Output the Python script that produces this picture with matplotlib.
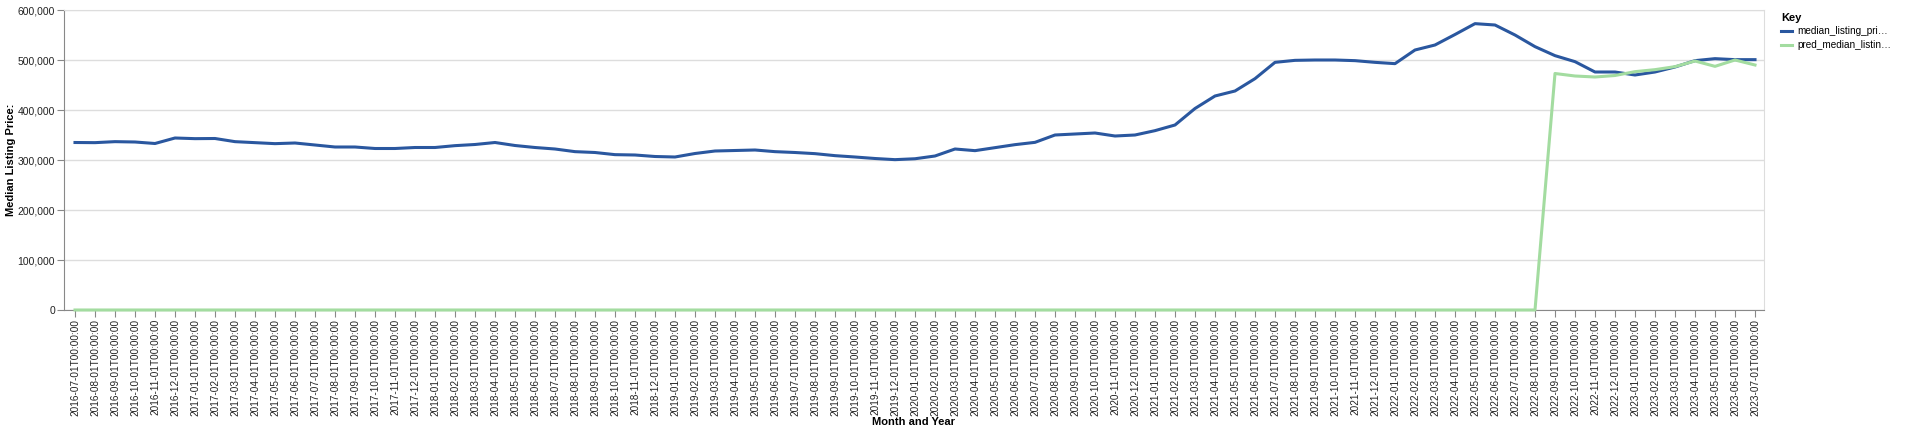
"""
plot.py — median listing price vs. predicted median listing price, monthly.
"""

import numpy as np
import pandas as pd
import matplotlib
matplotlib.use("Agg")
import matplotlib.pyplot as plt
from matplotlib.ticker import FuncFormatter

plt.rcParams["font.family"] = ["Liberation Sans", "DejaVu Sans"]

months = pd.date_range("2016-07-01", "2023-07-01", freq="MS")
month_labels = [m.strftime("%Y-%m-%dT00:00:00") for m in months]

median_listing_price = [
    335000, 334700, 336700, 336000, 333000, 344000, 342700, 343000, 336700, 334700,
    332700, 334000, 330000, 326000, 326000, 323000, 323000, 325000, 325000, 328700,
    331000, 335000, 329000, 325000, 322000, 316700, 315000, 310700, 310000, 307000,
    306000, 313000, 318000, 319000, 320000, 316700, 315000, 312700, 308700, 306000,
    303000, 300700, 302500, 308000, 322000, 318700, 324700, 330700, 335300, 350000,
    352000, 354000, 348000, 350000, 358700, 370000, 403000, 428000, 438000, 462700,
    495300, 499300, 500000, 500000, 498700, 495300, 492700, 520000, 530000, 551000,
    572700, 570000, 550000, 526700, 508700, 496700, 476000, 476000, 470000, 476000,
    486000, 498700, 502700, 500700, 500700,
]

pred_median_listing_price = [0] * 74 + [
    473000, 468000, 466000, 469000, 476700, 480700, 486700, 498000, 487300, 500000,
    490000,
]

BLUE = "#2a579f"
GREEN = "#a3dca0"

W, H = 1920, 434
fig = plt.figure(figsize=(W / 100, H / 100), dpi=100)
ax = fig.add_axes([64 / W, 1 - 310 / H, (1764 - 64) / W, 300 / H])

x = np.arange(len(months))
ax.plot(x, median_listing_price, color=BLUE, linewidth=2.2,
        label="median_listing_pri\u2026", zorder=3)
ax.plot(x, pred_median_listing_price, color=GREEN, linewidth=2.2,
        label="pred_median_listin\u2026", zorder=3, clip_on=False)

ax.set_xlim(-0.55, len(months) - 1 + 0.45)
ax.set_ylim(0, 600000)
ax.set_yticks(range(0, 600001, 100000))
ax.yaxis.set_major_formatter(FuncFormatter(lambda v, _: f"{int(v):,}"))
ax.set_xticks(x)
ax.set_xticklabels(month_labels, rotation=90, fontsize=7.2, color="#222222")
ax.tick_params(axis="y", labelsize=7.5, labelcolor="#222222", length=5,
               color="#888888", pad=1.5)
ax.tick_params(axis="x", length=5, color="#888888", pad=1.5)

ax.grid(axis="y", color="#dddddd", linewidth=1)
ax.set_axisbelow(True)
for side in ("top", "right"):
    ax.spines[side].set_color("#dddddd")
for side in ("left", "bottom"):
    ax.spines[side].set_color("#888888")

ax.set_ylabel("Median Listing Price:", fontsize=8, fontweight="bold")
ax.yaxis.set_label_coords(-0.0282, 0.5)
ax.set_xlabel("Month and Year", fontsize=8, fontweight="bold")
ax.xaxis.set_label_coords(0.5, -0.357)

leg = fig.legend(loc="upper left", bbox_to_anchor=(1772 / W, 1 - 4 / H),
                 frameon=False, title="Key", fontsize=7.2,
                 title_fontproperties={"weight": "bold", "size": 8},
                 handlelength=1.1, handletextpad=0.5, labelspacing=0.35)
leg._legend_box.align = "left"

fig.savefig("out.png", dpi=100)
plt.close(fig)
